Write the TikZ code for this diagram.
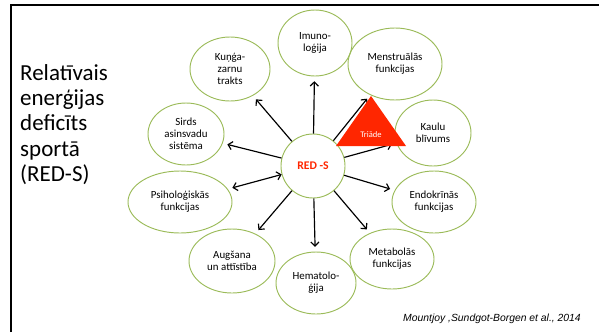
\documentclass[tikz,border=0pt]{standalone}
\usepackage{fontspec}
\setmainfont{Carlito}
\newfontfamily\citefont{Liberation Sans}
\usepackage{xcolor}
\usepackage{tikz}
\usetikzlibrary{shapes.geometric, arrows.meta}

\definecolor{bubblegreen}{RGB}{155,187,89}
\definecolor{triadred}{RGB}{255,38,0}

\begin{document}
\begin{tikzpicture}[
    x=0.03cm, y=-0.03cm,
    bubble/.style={ellipse, draw=bubblegreen, line width=0.8pt, inner sep=0pt, align=center, font=\fontsize{9.3}{10.4}\selectfont},
    hub/.style={circle, draw=bubblegreen, line width=0.8pt, minimum size=1.92cm, font=\fontsize{10}{12}\selectfont\bfseries, text=triadred},
    arrow/.style={-{Straight Barb[length=3.5pt,width=7pt]}, line width=1pt, shorten >=4pt},
    biarrow/.style={{Straight Barb[length=3.5pt,width=7pt]}-{Straight Barb[length=3.5pt,width=7pt]}, line width=1pt, shorten >=4pt}
]
    \useasboundingbox (0,0) rectangle (599,332);

    % Slide frame
    \draw[line width=1.8pt] (11,332) -- (11,5) -- (599,5);

    % Title
    \node[anchor=north west, inner sep=0pt, align=left, font=\fontsize{19.6}{21.6}\selectfont] (title) at (20,64)
        {Relatīvais\\enerģijas\\deficīts\\sportā\\(RED-S)};

    % Centre
    \node[hub] (reds) at (313,166) {RED -S};

    % Effects
    \node[bubble, minimum width=2.22cm, minimum height=1.98cm] (imuno) at (315,43) {Imuno-\\loģija};
    \node[bubble, minimum width=2.82cm, minimum height=2.16cm] (menstr) at (395,64) {Menstruālās\\funkcijas};
    \node[bubble, minimum width=2.28cm, minimum height=1.98cm] (kaulu) at (433,133) {Kaulu\\blīvums};
    \node[bubble, minimum width=2.52cm, minimum height=1.86cm] (endo) at (434,202) {Endokrīnās\\funkcijas};
    \node[bubble, minimum width=2.52cm, minimum height=1.8cm] (metab) at (392,259) {Metabolās\\funkcijas};
    \node[bubble, minimum width=2.4cm, minimum height=1.86cm] (hemat) at (316,283) {Hematolo-\\ģija};
    \node[bubble, minimum width=2.58cm, minimum height=1.92cm] (augs) at (232,261) {Augšana\\un attīstība};
    \node[bubble, minimum width=3.12cm, minimum height=1.86cm] (psih) at (180,202) {Psiholoģiskās\\funkcijas};
    \node[bubble, minimum width=2.28cm, minimum height=1.86cm] (sirds) at (186,134) {Sirds\\asinsvadu\\sistēma};
    \node[bubble, minimum width=2.4cm, minimum height=1.92cm] (kunga) at (230,69) {Kuņģa-\\zarnu\\trakts};

    % Connections
    \draw[arrow] (reds) -- (imuno);
    \draw[arrow] (reds) -- (menstr);
    \draw[arrow] (reds) -- (kaulu);
    \draw[arrow] (reds) -- (endo);
    \draw[arrow] (reds) -- (metab);
    \draw[arrow] (reds) -- (hemat);
    \draw[arrow] (reds) -- (augs);
    \draw[biarrow] (reds) -- (psih);
    \draw[arrow] (reds) -- (sirds);
    \draw[arrow] (reds) -- (kunga);

    % Triad
    \fill[triadred] (371,96) -- (336,146) -- (406,146) -- cycle;
    \node[text=white, font=\fontsize{7.3}{8}\selectfont] (triade) at (371,135) {Triāde};

    % Source
    \node[anchor=base east, inner sep=0pt, font=\citefont\itshape\fontsize{8.85}{10}\selectfont] (source) at (581,321)
        {Mountjoy ,Sundgot-Borgen et al., 2014};
\end{tikzpicture}
\end{document}
